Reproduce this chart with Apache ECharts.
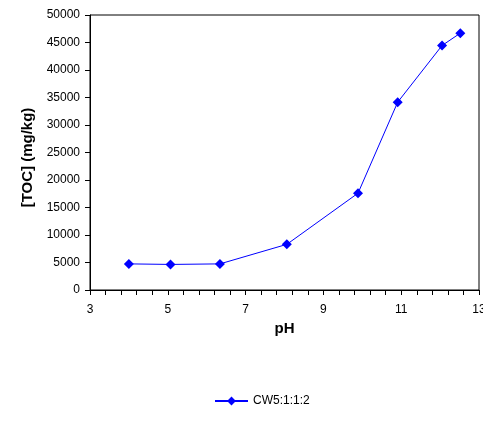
<!DOCTYPE html>
<html>
<head>
<meta charset="utf-8">
<script src="https://cdn.jsdelivr.net/npm/echarts@6/dist/echarts.min.js"></script>
<style>html,body{margin:0;padding:0;background:#fff}#c{width:483px;height:422px}</style>
</head>
<body>
<div id="c"></div>
<script>
const seriesName = 'CW5:1:1:2';
const phValues = [4.0, 5.07, 6.34, 8.06, 9.89, 10.91, 12.05, 12.52];
const tocValues = [4750, 4650, 4750, 8300, 17600, 34150, 44450, 46700];
const xAxisTitle = 'pH';
const yAxisTitle = '[TOC] (mg/kg)';

const chart = echarts.init(document.getElementById('c'), null, {renderer: 'canvas'});
const font = 'Liberation Sans, Arial, sans-serif';
chart.setOption({
  animation: false,
  backgroundColor: '#fff',
  grid: {left: 90, top: 15, right: 4, bottom: 132, show: true, borderColor: '#000', borderWidth: 1,
         containLabel: false, outerBoundsMode: 'none'},
  legend: {
    top: 390, left: 209,
    itemWidth: 33, itemHeight: 11, itemGap: 6,
    textStyle: {fontFamily: font, fontSize: 12, color: '#000'},
    data: [seriesName]
  },
  xAxis: {
    type: 'value', min: 3, max: 13, interval: 2,
    name: xAxisTitle, nameLocation: 'middle', nameGap: 22,
    nameTextStyle: {fontFamily: font, fontSize: 15, fontWeight: 'bold', color: '#000'},
    axisLine: {onZero: false, lineStyle: {color: '#000', width: 1}},
    axisTick: {show: true, inside: false, length: 5, lineStyle: {color: '#000', width: 1}},
    minorTick: {show: true, splitNumber: 5, length: 5, lineStyle: {color: '#000', width: 1}},
    axisLabel: {margin: 14, fontFamily: font, fontSize: 12, color: '#000'},
    splitLine: {show: false}
  },
  yAxis: {
    type: 'value', min: 0, max: 50000, interval: 5000,
    name: yAxisTitle, nameLocation: 'middle', nameGap: 54,
    nameTextStyle: {fontFamily: font, fontSize: 15, fontWeight: 'bold', color: '#000', padding: [0, 10, 0, 0]},
    axisLine: {show: true, lineStyle: {color: '#000', width: 1}},
    axisTick: {show: true, inside: false, length: 5, lineStyle: {color: '#000'}},
    axisLabel: {margin: 10, fontFamily: font, fontSize: 12, color: '#000', formatter: v => String(v)},
    splitLine: {show: false}
  },
  series: [{
    name: seriesName, type: 'line',
    data: phValues.map((p, i) => [p, tocValues[i]]),
    symbol: 'diamond', symbolSize: 10,
    itemStyle: {color: '#0000ff'},
    lineStyle: {color: '#0000ff', width: 1}
  }]
});
</script>
</body>
</html>
